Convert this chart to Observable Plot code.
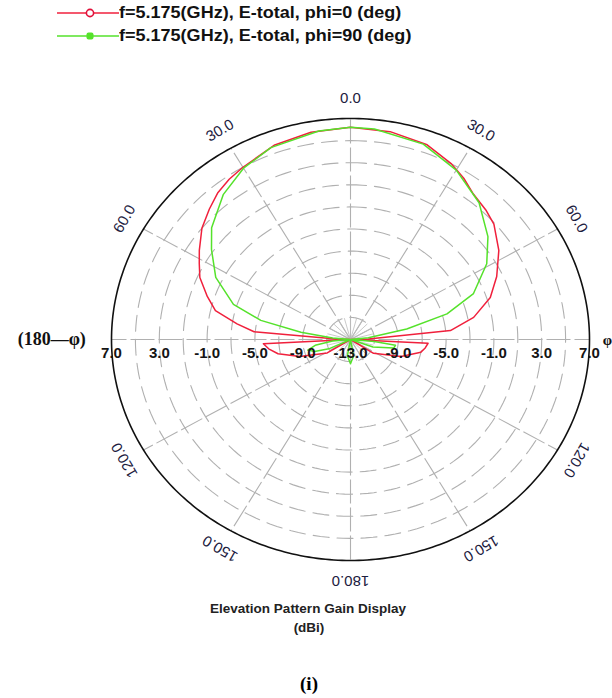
<!DOCTYPE html>
<html><head><meta charset="utf-8">
<script src="https://cdn.jsdelivr.net/npm/d3@7"></script>
<script src="https://cdn.jsdelivr.net/npm/@observablehq/plot@0.6"></script>
<style>
html,body{margin:0;padding:0;background:#fff;overflow:hidden;}
#wrap{position:relative;width:612px;height:698px;background:#fff;}
.leg{position:absolute;left:57px;height:20px;display:flex;align-items:center;}
.leg svg{display:block;}
.leg span{font:bold 17px "Liberation Sans",Arial,sans-serif;color:#111;display:inline-block;transform:scaleX(1.06);transform-origin:left center;white-space:nowrap;margin-left:0px;}
#chart{position:absolute;left:0;top:50px;}
.cap{position:absolute;text-align:center;white-space:nowrap;color:#222;}
</style>
</head><body>
<div id="wrap">
  <div class="leg" style="top:3px"><svg width="62" height="20"><line x1="0" y1="10" x2="62" y2="10" stroke="#f0203c" stroke-width="1.6"/><circle cx="33" cy="10" r="3.6" fill="#fff" stroke="#e0103a" stroke-width="1.6"/></svg><span id="l0"></span></div>
  <div class="leg" style="top:26px"><svg width="62" height="20"><line x1="0" y1="10" x2="62" y2="10" stroke="#55e22b" stroke-width="1.6"/><rect x="29.5" y="6.5" width="7" height="7" rx="2" fill="#55e22b"/></svg><span id="l1"></span></div>
  <div id="chart"></div>
  <div class="cap" id="t1" style="left:8px;width:600px;top:601px;line-height:20px;font:bold 13.5px 'Liberation Sans',Arial,sans-serif;"></div>
  <div class="cap" id="t2" style="left:9px;width:600px;top:620px;line-height:20px;font:bold 13.5px 'Liberation Sans',Arial,sans-serif;"></div>
  <div class="cap" id="t3" style="left:9px;width:600px;top:673px;line-height:24px;font:bold 19px 'Liberation Serif','Times New Roman',serif;color:#000;"></div>
</div>
<script>
// ---- data ----
const seriesNames = ["f=5.175(GHz), E-total, phi=0 (deg)", "f=5.175(GHz), E-total, phi=90 (deg)"];
const seriesColors = ["#f0203c", "#55e22b"];
const titleLines = ["Elevation Pattern Gain Display", "(dBi)"];
const figLabel = "(i)";
const rMin = -13, rMax = 7;
const ringLevels = [-11, -9, -7, -5, -3, -1, 1, 3, 5];
const radialTickValues = [7, 3, -1, -5, -9];
const radialTickLabels = ["7.0", "3.0", "-1.0", "-5.0", "-9.0"];
const centerLabel = "-13.0";
const angleTickValues = [0, 30, 60, 120, 150, 180, -30, -60, -120, -150];
const angleTickLabels = ["0.0", "30.0", "60.0", "120.0", "150.0", "180.0", "30.0", "60.0", "120.0", "150.0"];
const spokeAngles = [0, 30, 60, 90, 120, 150, 180, 210, 240, 270, 300, 330];
const leftAxisLabel = "(180\u2014\u03c6)";
const rightAxisLabel = "\u03c6";

// phi = 0 (red)
const angPhi0 = [-180, -130, -122, -110, -102, -97, -93, -90, -88, -85, -81.5, -77, -72, -66, -61.5, -57.5, -51, -45, -40, -35, -30, -20, -10, 0, 10, 20, 28, 33, 38, 44, 49, 57, 65, 72, 79, 84.5, 88, 90, 93, 97, 101, 110, 123, 130, 180];
const gainPhi0 = [-13, -13, -10.7, -8.5, -6.8, -6.1, -5.7, -13, -11.8, -4.9, -3.4, -1.4, -0.4, 0.8, 1.4, 2.0, 3.0, 3.7, 4.3, 4.7, 5.0, 5.7, 6.05, 6.2, 6.1, 5.75, 5.0, 4.4, 3.7, 3.3, 2.9, 1.8, 0.5, -0.7, -2.5, -4.6, -11.5, -13, -6.5, -6.7, -7.0, -8.5, -10.7, -13, -13];
// phi = 90 (green)
const angPhi90 = [-180, -170, -160, -125, -115, -110, -105, -100, -95, -90, -85, -81, -77, -72, -63.5, -55, -49, -39, -30, -21, -8, 0, 6, 19, 30, 41, 51, 59, 68, 74, 78.5, 84, 90, 95, 98, 102, 110, 120, 160, 170, 180];
const gainPhi90 = [-10.8, -11.5, -13, -13, -11, -9.8, -9.3, -10, -11.5, -13, -11.5, -8.8, -5.3, -2.7, -0.4, 1.2, 2.4, 3.9, 4.9, 5.6, 6.05, 6.2, 6.15, 5.7, 4.7, 3.4, 1.8, 0.3, -1.9, -4.6, -8.2, -11.5, -13, -11, -9.2, -9.3, -11, -13, -13, -11.5, -10.8];

// ---- helpers ----
const norm = g => Math.max(0, (g - rMin) / (rMax - rMin));
const rad = a => a * Math.PI / 180;
const polar = (a, r) => ({x: r * Math.sin(rad(a)), y: r * Math.cos(rad(a))});

document.getElementById("l0").textContent = seriesNames[0];
document.getElementById("l1").textContent = seriesNames[1];
document.getElementById("t1").textContent = titleLines[0];
document.getElementById("t2").textContent = titleLines[1];
document.getElementById("t3").textContent = figLabel;

const curves = [];
angPhi0.forEach((a, i) => curves.push({s: 0, ...polar(a, norm(gainPhi0[i]))}));
angPhi90.forEach((a, i) => curves.push({s: 1, ...polar(a, norm(gainPhi90[i]))}));

const rings = [];
ringLevels.forEach(lv => { for (let a = 0; a <= 360; a += 2) rings.push({lv, ...polar(a, norm(lv))}); });
const outer = [];
for (let a = 0; a <= 360; a += 1) outer.push(polar(a, 1));

const spokes = spokeAngles.map(a => ({a, ...polar(a, 1)}));
const star = d3.range(0, 360, 15).map(a => ({a, ...polar(a, 0.1)}));

const radLabels = [];
radialTickValues.forEach((v, i) => {
  radLabels.push({x: -norm(v), y: 0, t: radialTickLabels[i]});
  radLabels.push({x: norm(v), y: 0, t: radialTickLabels[i]});
});
radLabels.push({x: 0, y: 0, t: centerLabel});

const angLabels = angleTickValues.map((a, i) => ({...polar(a, 1.092), t: angleTickLabels[i], rot: a}));

const plot = Plot.plot({
  width: 612, height: 548, margin: 0,
  x: {domain: [-1, 1], range: [111, 589], axis: null},
  y: {domain: [-1, 1], range: [510, 68], axis: null},
  style: {background: "white", fontFamily: "'Liberation Sans', Arial, sans-serif", overflow: "visible"},
  marks: [
    Plot.line(rings, {x: "x", y: "y", z: "lv", stroke: "#b0b0b0", strokeWidth: 1.1, strokeDasharray: "16,8"}),
    Plot.link(spokes, {x1: 0, y1: 0, x2: "x", y2: "y", stroke: "#b0b0b0", strokeWidth: 1.1, strokeDasharray: "24,4"}),
    Plot.link(star, {x1: 0, y1: 0, x2: "x", y2: "y", stroke: "#bcbcbc", strokeWidth: 0.8}),
    Plot.line(outer, {x: "x", y: "y", stroke: "#111", strokeWidth: 1.6}),
    Plot.line(curves, {x: "x", y: "y", z: "s", stroke: d => seriesColors[d.s], strokeWidth: 1.5, curve: "linear"}),
    Plot.text(radLabels, {x: "x", y: "y", text: "t", dy: 14, fontSize: 15, fontWeight: "bold", fill: "#151515"}),
    Plot.text(angLabels, {x: "x", y: "y", text: "t", rotate: "rot", fontSize: 15, fill: "#1c2040"}),
    Plot.text([{x: -1.25, y: 0, t: leftAxisLabel}], {x: "x", y: "y", text: "t", fontSize: 18, fontWeight: "bold", fontFamily: "'Liberation Serif','Times New Roman',serif", fill: "#111"}),
    Plot.text([{x: 1.055, y: 0, t: rightAxisLabel}], {x: "x", y: "y", text: "t", dy: 1, textAnchor: "start", fontSize: 15, fontWeight: "bold", fontFamily: "'Liberation Serif','Times New Roman',serif", fill: "#111"})
  ]
});
document.getElementById("chart").appendChild(plot);
</script>
</body></html>
